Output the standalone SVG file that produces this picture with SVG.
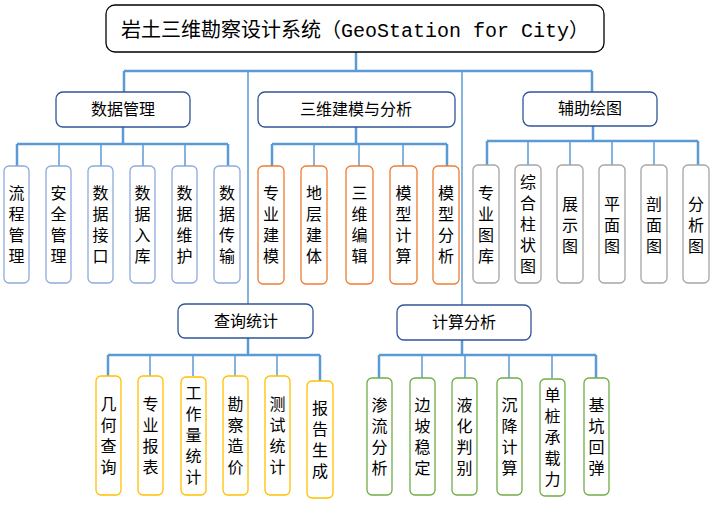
<svg xmlns="http://www.w3.org/2000/svg" width="712" height="506" viewBox="0 0 712 506">
<style>
text{font-family:"Noto Sans CJK SC","Liberation Sans",sans-serif;fill:#000;text-anchor:middle}
.ln{stroke:#5B9BD5;stroke-width:2.5;fill:none}
.thin{stroke:#5B9BD5;stroke-width:1.5;fill:none}
.l1{fill:#fff;stroke:#2F5597;stroke-width:1.3}
.bl{fill:#fff;stroke:#8FAADC;stroke-width:1.3}
.or{fill:#fff;stroke:#ED7D31;stroke-width:1.3}
.gr{fill:#fff;stroke:#A5A5A5;stroke-width:1.3}
.ye{fill:#fff;stroke:#FFC000;stroke-width:1.3}
.gn{fill:#fff;stroke:#70AD47;stroke-width:1.3}
.v{font-size:16px}
.h{font-size:16px}
</style>
<rect width="712" height="506" fill="#fff"/>
<g id="connectors">
<path class="ln" d="M356 52V71M124 71H592M124 71V92M592 71V92"/>
<path class="thin" d="M248 71V304M462 71V305"/>
<path class="ln" d="M123 127V144M17 144H228M17 144V166M228 144V166"/>
<path class="thin" d="M59 144V166M101 144V166M143 144V166M185 144V166"/>
<path class="ln" d="M356 127V144M272 144H447M272 144V166M447 144V166"/>
<path class="thin" d="M314 144V166M359 144V166M403 144V166"/>
<path class="ln" d="M593 126V141M487 141H698M487 141V165M698 141V165"/>
<path class="thin" d="M528 141V165M570 141V165M612 141V165M654 141V165"/>
<path class="ln" d="M248 338V355M108 355H320M108 355V376M320 355V381"/>
<path class="thin" d="M150 355V376M193 355V376M235 355V376M277 355V376"/>
<path class="ln" d="M462 340V355M379 355H596M379 355V378M596 355V378"/>
<path class="thin" d="M422 355V378M465 355V378M509 355V378M552 355V378"/>
</g>
<g id="root"><rect x="106" y="5" width="498" height="47" rx="9" fill="#fff" stroke="#000" stroke-width="1.3"/>
<text x="355" y="37" style="font-size:20px;font-family:'Noto Sans CJK SC','Liberation Mono',monospace">岩土三维勘察设计系统（<tspan style="font-family:'Liberation Mono',monospace">GeoStation for City</tspan>）</text></g>
<g id="n-data"><rect class="l1" x="56" y="92" width="134" height="35" rx="7"/><text class="h" x="123" y="115">数据管理</text></g>
<g id="n-3d"><rect class="l1" x="258" y="92" width="197" height="35" rx="7"/><text class="h" x="356" y="115">三维建模与分析</text></g>
<g id="n-draw"><rect class="l1" x="523" y="92" width="134" height="34" rx="7"/><text class="h" x="590" y="114">辅助绘图</text></g>
<g id="n-query"><rect class="l1" x="178" y="304" width="135" height="34" rx="7"/><text class="h" x="246" y="327">查询统计</text></g>
<g id="n-calc"><rect class="l1" x="397" y="305" width="134" height="35" rx="7"/><text class="h" x="464" y="328">计算分析</text></g>

<g id="d1"><rect class="bl" x="4" y="166" width="25" height="117" rx="5"/><text class="v"><tspan x="16.5" y="199">流</tspan><tspan x="16.5" dy="21">程</tspan><tspan x="16.5" dy="21">管</tspan><tspan x="16.5" dy="21">理</tspan></text></g>
<g id="d2"><rect class="bl" x="46" y="166" width="25" height="117" rx="5"/><text class="v"><tspan x="58.5" y="199">安</tspan><tspan x="58.5" dy="21">全</tspan><tspan x="58.5" dy="21">管</tspan><tspan x="58.5" dy="21">理</tspan></text></g>
<g id="d3"><rect class="bl" x="88" y="166" width="25" height="117" rx="5"/><text class="v"><tspan x="100.5" y="199">数</tspan><tspan x="100.5" dy="21">据</tspan><tspan x="100.5" dy="21">接</tspan><tspan x="100.5" dy="21">口</tspan></text></g>
<g id="d4"><rect class="bl" x="130" y="166" width="25" height="117" rx="5"/><text class="v"><tspan x="142.5" y="199">数</tspan><tspan x="142.5" dy="21">据</tspan><tspan x="142.5" dy="21">入</tspan><tspan x="142.5" dy="21">库</tspan></text></g>
<g id="d5"><rect class="bl" x="172" y="166" width="25" height="117" rx="5"/><text class="v"><tspan x="184.5" y="199">数</tspan><tspan x="184.5" dy="21">据</tspan><tspan x="184.5" dy="21">维</tspan><tspan x="184.5" dy="21">护</tspan></text></g>
<g id="d6"><rect class="bl" x="214" y="166" width="26" height="117" rx="5"/><text class="v"><tspan x="227" y="199">数</tspan><tspan x="227" dy="21">据</tspan><tspan x="227" dy="21">传</tspan><tspan x="227" dy="21">输</tspan></text></g>

<g id="m1"><rect class="or" x="258" y="166" width="26" height="118" rx="5"/><text class="v"><tspan x="271" y="199">专</tspan><tspan x="271" dy="21">业</tspan><tspan x="271" dy="21">建</tspan><tspan x="271" dy="21">模</tspan></text></g>
<g id="m2"><rect class="or" x="301" y="166" width="26" height="118" rx="5"/><text class="v"><tspan x="314" y="199">地</tspan><tspan x="314" dy="21">层</tspan><tspan x="314" dy="21">建</tspan><tspan x="314" dy="21">体</tspan></text></g>
<g id="m3"><rect class="or" x="346" y="166" width="27" height="118" rx="5"/><text class="v"><tspan x="359.5" y="199">三</tspan><tspan x="359.5" dy="21">维</tspan><tspan x="359.5" dy="21">编</tspan><tspan x="359.5" dy="21">辑</tspan></text></g>
<g id="m4"><rect class="or" x="390" y="166" width="27" height="118" rx="5"/><text class="v"><tspan x="403.5" y="199">模</tspan><tspan x="403.5" dy="21">型</tspan><tspan x="403.5" dy="21">计</tspan><tspan x="403.5" dy="21">算</tspan></text></g>
<g id="m5"><rect class="or" x="433" y="166" width="26" height="118" rx="5"/><text class="v"><tspan x="446" y="199">模</tspan><tspan x="446" dy="21">型</tspan><tspan x="446" dy="21">分</tspan><tspan x="446" dy="21">析</tspan></text></g>

<g id="a1"><rect class="gr" x="473" y="165" width="26" height="118" rx="5"/><text class="v"><tspan x="486" y="199">专</tspan><tspan x="486" dy="21">业</tspan><tspan x="486" dy="21">图</tspan><tspan x="486" dy="21">库</tspan></text></g>
<g id="a2"><rect class="gr" x="515" y="165" width="26" height="118" rx="5"/><text class="v"><tspan x="528" y="188">综</tspan><tspan x="528" dy="21">合</tspan><tspan x="528" dy="21">柱</tspan><tspan x="528" dy="21">状</tspan><tspan x="528" dy="21">图</tspan></text></g>
<g id="a3"><rect class="gr" x="557" y="165" width="26" height="118" rx="5"/><text class="v"><tspan x="570" y="210">展</tspan><tspan x="570" dy="21">示</tspan><tspan x="570" dy="21">图</tspan></text></g>
<g id="a4"><rect class="gr" x="599" y="165" width="26" height="118" rx="5"/><text class="v"><tspan x="612" y="210">平</tspan><tspan x="612" dy="21">面</tspan><tspan x="612" dy="21">图</tspan></text></g>
<g id="a5"><rect class="gr" x="641" y="165" width="26" height="118" rx="5"/><text class="v"><tspan x="654" y="210">剖</tspan><tspan x="654" dy="21">面</tspan><tspan x="654" dy="21">图</tspan></text></g>
<g id="a6"><rect class="gr" x="683" y="165" width="26" height="118" rx="5"/><text class="v"><tspan x="696" y="210">分</tspan><tspan x="696" dy="21">析</tspan><tspan x="696" dy="21">图</tspan></text></g>

<g id="q1"><rect class="ye" x="96" y="376" width="25" height="119" rx="5"/><text class="v"><tspan x="108.5" y="410">几</tspan><tspan x="108.5" dy="21">何</tspan><tspan x="108.5" dy="21">查</tspan><tspan x="108.5" dy="21">询</tspan></text></g>
<g id="q2"><rect class="ye" x="138" y="376" width="25" height="119" rx="5"/><text class="v"><tspan x="150.5" y="410">专</tspan><tspan x="150.5" dy="21">业</tspan><tspan x="150.5" dy="21">报</tspan><tspan x="150.5" dy="21">表</tspan></text></g>
<g id="q3"><rect class="ye" x="181" y="377" width="25" height="118" rx="5"/><text class="v"><tspan x="193.5" y="399">工</tspan><tspan x="193.5" dy="21">作</tspan><tspan x="193.5" dy="21">量</tspan><tspan x="193.5" dy="21">统</tspan><tspan x="193.5" dy="21">计</tspan></text></g>
<g id="q4"><rect class="ye" x="223" y="376" width="25" height="119" rx="5"/><text class="v"><tspan x="235.5" y="410">勘</tspan><tspan x="235.5" dy="21">察</tspan><tspan x="235.5" dy="21">造</tspan><tspan x="235.5" dy="21">价</tspan></text></g>
<g id="q5"><rect class="ye" x="265" y="376" width="25" height="119" rx="5"/><text class="v"><tspan x="277.5" y="410">测</tspan><tspan x="277.5" dy="21">试</tspan><tspan x="277.5" dy="21">统</tspan><tspan x="277.5" dy="21">计</tspan></text></g>
<g id="q6"><rect class="ye" x="307" y="381" width="26" height="117" rx="5"/><text class="v"><tspan x="320" y="414">报</tspan><tspan x="320" dy="21">告</tspan><tspan x="320" dy="21">生</tspan><tspan x="320" dy="21">成</tspan></text></g>

<g id="c1"><rect class="gn" x="367" y="378" width="25" height="117" rx="5"/><text class="v"><tspan x="379.5" y="411">渗</tspan><tspan x="379.5" dy="21">流</tspan><tspan x="379.5" dy="21">分</tspan><tspan x="379.5" dy="21">析</tspan></text></g>
<g id="c2"><rect class="gn" x="410" y="378" width="25" height="117" rx="5"/><text class="v"><tspan x="422.5" y="411">边</tspan><tspan x="422.5" dy="21">坡</tspan><tspan x="422.5" dy="21">稳</tspan><tspan x="422.5" dy="21">定</tspan></text></g>
<g id="c3"><rect class="gn" x="452" y="378" width="25" height="117" rx="5"/><text class="v"><tspan x="464.5" y="411">液</tspan><tspan x="464.5" dy="21">化</tspan><tspan x="464.5" dy="21">判</tspan><tspan x="464.5" dy="21">别</tspan></text></g>
<g id="c4"><rect class="gn" x="497" y="378" width="25" height="117" rx="5"/><text class="v"><tspan x="509.5" y="411">沉</tspan><tspan x="509.5" dy="21">降</tspan><tspan x="509.5" dy="21">计</tspan><tspan x="509.5" dy="21">算</tspan></text></g>
<g id="c5"><rect class="gn" x="540" y="379" width="25" height="117" rx="5"/><text class="v"><tspan x="552.5" y="401">单</tspan><tspan x="552.5" dy="21">桩</tspan><tspan x="552.5" dy="21">承</tspan><tspan x="552.5" dy="21">载</tspan><tspan x="552.5" dy="21">力</tspan></text></g>
<g id="c6"><rect class="gn" x="584" y="378" width="25" height="117" rx="5"/><text class="v"><tspan x="596.5" y="411">基</tspan><tspan x="596.5" dy="21">坑</tspan><tspan x="596.5" dy="21">回</tspan><tspan x="596.5" dy="21">弹</tspan></text></g>
</svg>
